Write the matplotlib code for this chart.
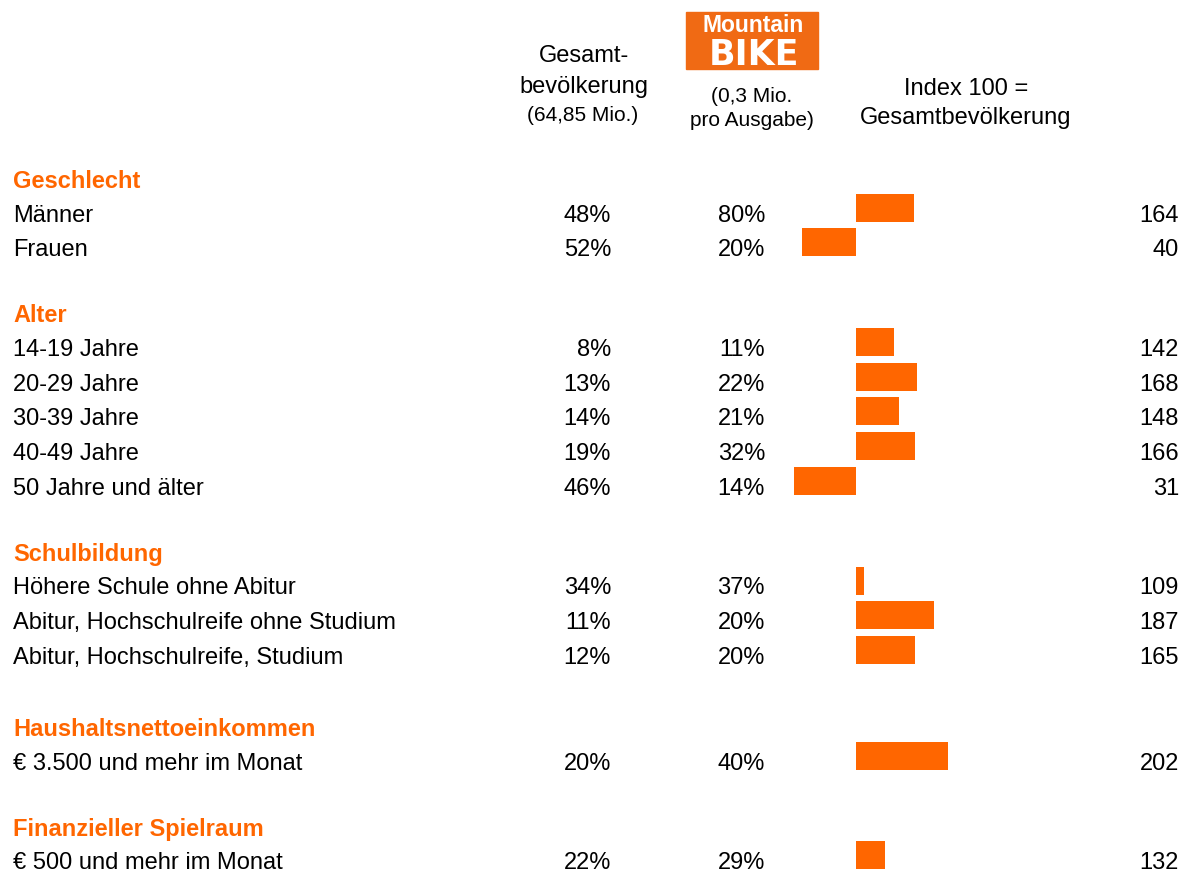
import matplotlib.pyplot as plt
from matplotlib.patches import Rectangle

plt.rcParams['font.family'] = ['Liberation Sans', 'DejaVu Sans']

ORANGE = '#ff6600'

# Abschnitte und Zeilen
sections = ['Geschlecht', 'Alter', 'Schulbildung',
            'Haushaltsnettoeinkommen', 'Finanzieller Spielraum']
labels = [
    ['Männer', 'Frauen'],
    ['14-19 Jahre', '20-29 Jahre', '30-39 Jahre', '40-49 Jahre',
     '50 Jahre und älter'],
    ['Höhere Schule ohne Abitur', 'Abitur, Hochschulreife ohne Studium',
     'Abitur, Hochschulreife, Studium'],
    ['€ 3.500 und mehr im Monat'],
    ['€ 500 und mehr im Monat'],
]
gesamt = [[48, 52], [8, 13, 14, 19, 46], [34, 11, 12], [20], [22]]
mbike = [[80, 20], [11, 22, 21, 32, 14], [37, 20, 20], [40], [29]]
index = [[164, 40], [142, 168, 148, 166, 31], [109, 187, 165], [202], [132]]

FS = 17      # normale Schrift
FS_S = 15    # kleine Zusätze im Kopf

W, H = 1182, 874
fig = plt.figure(figsize=(W / 100, H / 100), dpi=100)
ax = fig.add_axes([0, 0, 1, 1])
ax.set_xlim(0, W)
ax.set_ylim(H, 0)
ax.axis('off')

# Balken-Achse: x in Indexpunkten, 100 liegt bei px 856
scale = 0.9  # px pro Indexpunkt
x0, x1 = 700, 1100
bax = fig.add_axes([x0 / W, 0, (x1 - x0) / W, 1], sharey=ax)
bax.set_xlim(100 - (856 - x0) / scale, 100 + (x1 - 856) / scale)
bax.axis('off')

# Kopfzeile
ax.text(584, 62, 'Gesamt-', ha='center', va='baseline', fontsize=FS)
ax.text(584, 93, 'bevölkerung', ha='center', va='baseline', fontsize=FS)
ax.text(583, 121, '(64,85 Mio.)', ha='center', va='baseline', fontsize=FS_S)
ax.text(752, 102, '(0,3 Mio.', ha='center', va='baseline', fontsize=FS_S)
ax.text(752, 126, 'pro Ausgabe)', ha='center', va='baseline', fontsize=FS_S)
ax.text(966, 95, 'Index 100 =', ha='center', va='baseline', fontsize=FS)
ax.text(966, 124, 'Gesamtbevölkerung', ha='center', va='baseline', fontsize=FS)

# Logo
ax.add_patch(Rectangle((686, 12), 132, 57, color='#f06a14', zorder=1))
ax.text(753, 32, 'Mountain', ha='center', va='baseline', fontsize=16.5,
        fontweight='bold', color='white', zorder=2)
ax.text(754, 65, 'BIKE', ha='center', va='baseline', fontsize=25,
        fontweight='bold', family='DejaVu Sans', color='white', zorder=2)

# Zeilen
step, head_step = 34.8, 33.5
gaps = [66, 66, 72, 66]
y = 188
for s, sec in enumerate(sections):
    if s > 0:
        y += gaps[s - 1]
    ax.text(13, y, sec, va='baseline', fontsize=FS, fontweight='bold',
            color=ORANGE)
    y += head_step
    for i, lab in enumerate(labels[s]):
        if i > 0:
            y += step
        ax.text(13, y, lab, va='baseline', fontsize=FS)
        ax.text(611, y, f'{gesamt[s][i]}%', ha='right', va='baseline',
                fontsize=FS)
        ax.text(765, y, f'{mbike[s][i]}%', ha='right', va='baseline',
                fontsize=FS)
        ax.text(1179, y, f'{index[s][i]}', ha='right', va='baseline',
                fontsize=FS)
        bax.barh(y - 14, index[s][i] - 100, left=100, height=28,
                 color=ORANGE, linewidth=0)

fig.savefig('out.png', dpi=100)
